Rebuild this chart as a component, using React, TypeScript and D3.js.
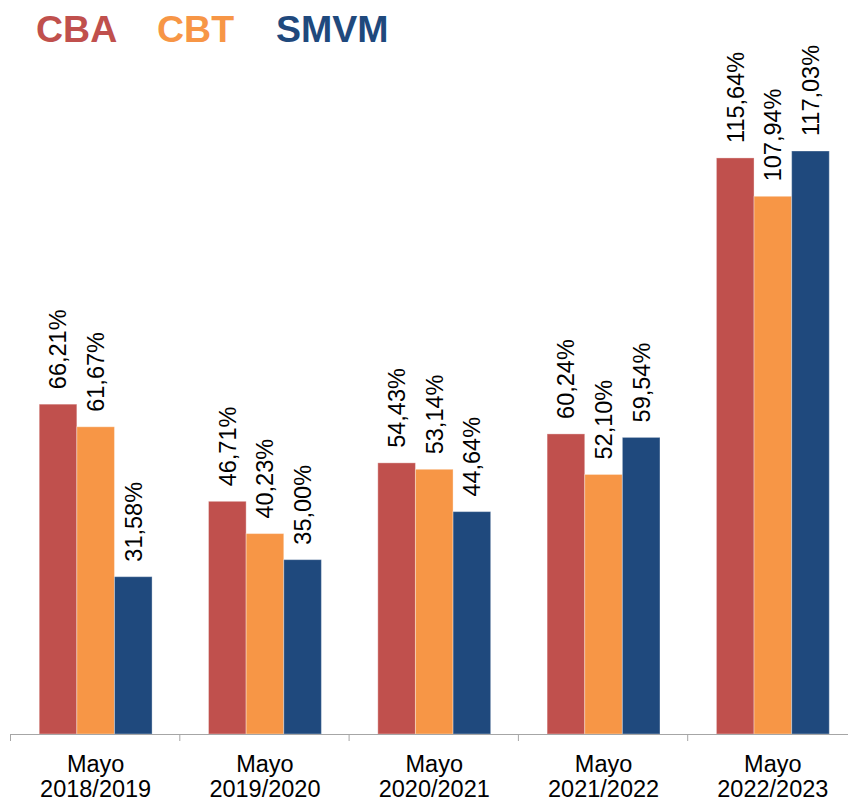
import { scaleBand, scaleLinear } from 'd3';

const width = 848;
const height = 801;

const categories = ['2018/2019', '2019/2020', '2020/2021', '2021/2022', '2022/2023'];
const seriesNames = ['CBA', 'CBT', 'SMVM'];
const cbaValues = [66.21, 46.71, 54.43, 60.24, 115.64];
const cbtValues = [61.67, 40.23, 53.14, 52.1, 107.94];
const smvmValues = [31.58, 35.0, 44.64, 59.54, 117.03];
const colors = ['#C0504D', '#F79646', '#1F497D'];

const series = [cbaValues, cbtValues, smvmValues];

const axisY = 734;
const bandStart = 11;
const bandWidth = 169.3;
const labelFont = 'Liberation Sans, Arial, sans-serif';

const fmt = (v: number) => v.toFixed(2).replace('.', ',') + '%';

const App = () => {
	const xScale = scaleBand<string>()
		.domain(categories)
		.range([bandStart, bandStart + bandWidth * categories.length])
		.padding(0);

	const innerScale = scaleBand<string>()
		.domain(seriesNames)
		.range([0, xScale.bandwidth()])
		.paddingInner(0)
		.paddingOuter(0.75);

	const yScale = scaleLinear().domain([0, 117.03]).range([axisY, 151]);

	const legendX = [36, 157, 276];

	return (
		<svg
			width={width}
			height={height}
			style={{ position: 'absolute', left: 0, top: 0, background: '#fff' }}
		>
			{/* legend */}
			{seriesNames.map((name, i) => (
				<text
					key={name}
					x={legendX[i]}
					y={42}
					fill={colors[i]}
					fontFamily={labelFont}
					fontWeight="bold"
					fontSize={37.5}
				>
					{name}
				</text>
			))}

			{/* bars */}
			{categories.map((cat, ci) => (
				<g key={cat} transform={`translate(${xScale(cat)},0)`}>
					{seriesNames.map((name, si) => {
						const v = series[si][ci];
						const x0 = innerScale(name) as number;
						const bw = innerScale.bandwidth();
						const yTop = yScale(v);
						const cx = x0 + bw / 2;
						return (
							<g key={name}>
								<rect
									x={x0}
									y={yTop}
									width={bw}
									height={axisY - yTop}
									fill={colors[si]}
									stroke="#ffffff"
									strokeOpacity={0.35}
									strokeWidth={1}
								/>
								<text
									transform={`translate(${cx},${yTop - 15}) rotate(-90)`}
									dy="0.36em"
									fontFamily={labelFont}
									fontSize={23.5}
									fill="#000"
								>
									{fmt(v)}
								</text>
							</g>
						);
					})}
				</g>
			))}

			{/* axis */}
			<line
				x1={10}
				x2={width}
				y1={axisY + 0.5}
				y2={axisY + 0.5}
				stroke="#a6a6a6"
				strokeWidth={1}
			/>
			{categories.map(cat => (
				<line
					key={'t' + cat}
					x1={(xScale(cat) as number) - 0.5}
					x2={(xScale(cat) as number) - 0.5}
					y1={axisY}
					y2={axisY + 7}
					stroke="#a6a6a6"
					strokeWidth={1}
				/>
			))}
			{categories.map(cat => {
				const cx = (xScale(cat) as number) + xScale.bandwidth() / 2;
				return (
					<text
						key={'l' + cat}
						x={cx}
						textAnchor="middle"
						fontFamily={labelFont}
						fontSize={23.5}
						fill="#000"
					>
						<tspan x={cx} y={772}>
							Mayo
						</tspan>
						<tspan x={cx} y={797}>
							{cat}
						</tspan>
					</text>
				);
			})}
		</svg>
	);
};

export default App;
